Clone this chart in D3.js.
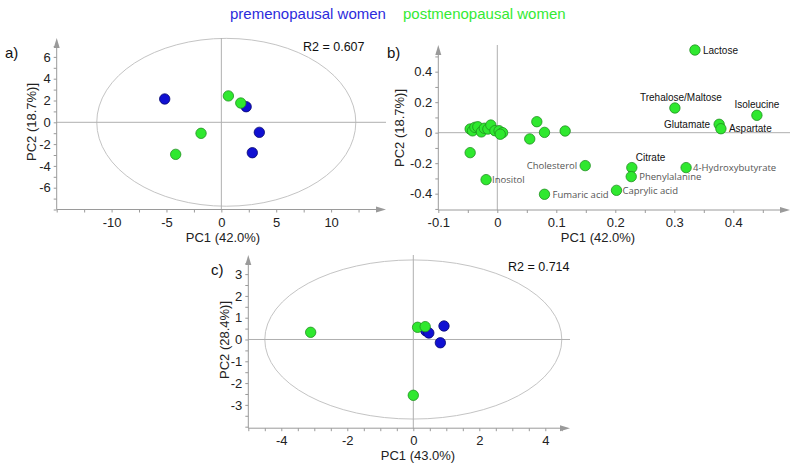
<!DOCTYPE html>
<html><head><meta charset="utf-8">
<script src="https://cdn.jsdelivr.net/npm/d3@7"></script>
<style>
html,body{margin:0;padding:0;background:#fff;}
svg{display:block;font-family:"Liberation Sans",Arial,sans-serif;}
</style></head>
<body>
<svg id="chart" width="800" height="469"></svg>
<script>
// ---------- DATA ----------
const groups = ["premenopausal women", "postmenopausal women"];

// panel a) scores
const aPreX  = [-5.16, 2.26, 3.46, 2.82];
const aPreY  = [ 2.14, 1.43, -0.92, -2.79];
const aPostX = [0.64, 1.77, -1.85, -4.16];
const aPostY = [2.42, 1.77, -1.01, -2.94];
const aR2 = "R2 = 0.607";

// panel b) loadings
const bNames = ["Lactose","Trehalose/Maltose","Isoleucine","Glutamate","Aspartate","Cholesterol","Citrate",
  "4-Hydroxybutyrate","Phenylalanine","Inositol","Fumaric acid","Caprylic acid",
  "","","","","", "","","","","","","","","","","",""];
const bX = [0.335,0.301,0.440,0.376,0.379,0.149,0.228,0.320,0.227,-0.019,0.080,0.202,
  0.067,0.080,0.115,0.055,-0.046, -0.046,-0.042,-0.038,-0.033,-0.027,-0.022,-0.016,-0.011,-0.004,0.003,0.009,0.005];
const bY = [0.542,0.162,0.114,0.055,0.026,-0.216,-0.229,-0.229,-0.288,-0.308,-0.404,-0.378,
  0.072,0.002,0.011,-0.041,-0.131, 0.024,0.012,0.035,0.039,0.005,0.029,0.024,0.050,0.013,0.013,0.000,-0.010];

// panel c) scores
const cPreX  = [0.38, 0.47, 0.93, 0.82];
const cPreY  = [0.40, 0.30, 0.62, -0.15];
const cPostX = [-3.11, 0.13, 0.36, 0.00];
const cPostY = [0.33, 0.56, 0.59, -2.56];
const cR2 = "R2 = 0.714";

const axisTitles = {a:["PC1 (42.0%)","PC2 (18.7%)]"], b:["PC1 (42.0%)","PC2 (18.7%)]"], c:["PC1 (43.0%)","PC2 (28.4%)]"]};

// ---------- STYLE / LAYOUT ----------
const BLUE = "#1010d2", BLUE_S = "#06066e";
const GREEN = "#2fe82f", GREEN_S = "#1f8f1f";
const AXC = "#9a9a9a";
const R = 5.2;

// label placement for panel b (style only)
const bPlace = {
  "Lactose":["r",8], "Trehalose/Maltose":["a",6], "Isoleucine":["a",0], "Glutamate":["l",9],
  "Aspartate":["r",8], "Cholesterol":["l",8], "Citrate":["ar",4], "4-Hydroxybutyrate":["r",7],
  "Phenylalanine":["r",8], "Inositol":["r",6], "Fumaric acid":["r",8], "Caprylic acid":["r",6]
};
const greyLabels = new Set(["Cholesterol","4-Hydroxybutyrate","Phenylalanine","Inositol","Fumaric acid","Caprylic acid"]);

const svg = d3.select("#chart");
const fmt = d => String(+(+d).toFixed(2));

function panel(cfg) {
  const g = svg.append("g");
  const x = d3.scaleLinear().domain(cfg.xd).range(cfg.xr);
  const y = d3.scaleLinear().domain(cfg.yd).range(cfg.yr);
  const x0 = cfg.xr[0], yb = cfg.yr[0];

  if (cfg.ell) {
    const [cx, cy, rx, ry] = cfg.ell;
    g.append("ellipse").attr("cx", x(cx)).attr("cy", y(cy))
      .attr("rx", Math.abs(x(rx) - x(0))).attr("ry", Math.abs(y(ry) - y(0)))
      .attr("fill", "none").attr("stroke", "#c4c4c4").attr("stroke-width", 1);
  }
  g.append("line").attr("x1", x(0)).attr("x2", x(0)).attr("y1", cfg.yTop).attr("y2", yb)
    .attr("stroke", "#b0b0b0").attr("stroke-width", 1);
  g.append("line").attr("x1", x0).attr("x2", cfg.xEnd).attr("y1", y(0)).attr("y2", y(0))
    .attr("stroke", "#b0b0b0").attr("stroke-width", 1);

  const xa = g.append("g").attr("transform", `translate(0,${yb})`)
    .call(d3.axisBottom(x).tickValues(cfg.xt).tickSize(3).tickSizeOuter(0)
      .tickFormat(d => cfg.xl.some(v => Math.abs(v - d) < 1e-9) ? fmt(d) : ""));
  const ya = g.append("g").attr("transform", `translate(${x0},0)`)
    .call(d3.axisLeft(y).tickValues(cfg.yt).tickSize(3).tickSizeOuter(0)
      .tickFormat(d => cfg.yl.some(v => Math.abs(v - d) < 1e-9) ? fmt(d) : ""));
  [xa, ya].forEach(a => {
    a.select(".domain").remove();
    a.selectAll(".tick line").attr("stroke", AXC);
    a.selectAll(".tick text").attr("fill", "#222").style("font-size", "13px")
      .style("font-family", '"Liberation Sans",Arial,sans-serif');
  });
  xa.selectAll(".tick text").attr("dy", "0").attr("y", 17);
  ya.selectAll(".tick text").attr("x", -6);
  g.append("line").attr("x1", x0).attr("x2", cfg.xEnd - 8).attr("y1", yb).attr("y2", yb).attr("stroke", AXC);
  g.append("path").attr("d", `M${cfg.xEnd},${yb} L${cfg.xEnd - 10},${yb - 3} L${cfg.xEnd - 10},${yb + 3} Z`).attr("fill", AXC);
  g.append("line").attr("x1", x0).attr("x2", x0).attr("y1", cfg.yTop + 8).attr("y2", yb).attr("stroke", AXC);
  g.append("path").attr("d", `M${x0},${cfg.yTop} L${x0 - 3},${cfg.yTop + 10} L${x0 + 3},${cfg.yTop + 10} Z`).attr("fill", AXC);

  g.append("text").attr("x", cfg.xtPos[0]).attr("y", cfg.xtPos[1]).attr("text-anchor", "middle")
    .style("font-size", "13px").attr("fill", "#222").text(cfg.titles[0]);
  g.append("text").attr("transform", `translate(${cfg.ytPos[0]},${cfg.ytPos[1]}) rotate(-90)`)
    .attr("text-anchor", "middle").style("font-size", "13px").attr("fill", "#222").text(cfg.titles[1]);
  g.append("text").attr("x", cfg.letterPos[0]).attr("y", cfg.letterPos[1]).style("font-size", "15px")
    .attr("fill", "#111").text(cfg.letter);
  if (cfg.r2) g.append("text").attr("x", cfg.r2Pos[0]).attr("y", cfg.r2Pos[1]).style("font-size", "12.5px")
    .attr("fill", "#111").text(cfg.r2);
  return {g, x, y};
}

function dots(p, xs, ys, fill, stroke) {
  p.g.append("g").selectAll("circle").data(xs.map((d, i) => [d, ys[i]])).join("circle")
    .attr("cx", d => p.x(d[0])).attr("cy", d => p.y(d[1])).attr("r", R)
    .attr("fill", fill).attr("stroke", stroke).attr("stroke-width", 0.8);
}

// legend
svg.append("text").attr("x", 230).attr("y", 19).style("font-size", "15px").attr("fill", "#2b2bdc").text(groups[0]);
svg.append("text").attr("x", 403).attr("y", 19).style("font-size", "15px").attr("fill", "#34ea34").text(groups[1]);

// ---- panel a
const pa = panel({
  xd: [-15, 15], xr: [56.7, 386], yd: [-8, 8], yr: [209.5, 35.1],
  xEnd: 386, yTop: 38,
  xt: d3.range(-15, 12.6, 2.5), xl: [-10, -5, 0, 5, 10],
  yt: d3.range(-8, 7.1, 1), yl: [-6, -4, -2, 0, 2, 4, 6],
  ell: [0.45, 0, 11.8, 7.7],
  titles: axisTitles.a, xtPos: [223, 242], ytPos: [36, 122],
  letter: "a)", letterPos: [5, 58], r2: aR2, r2Pos: [303, 51]
});
dots(pa, aPreX, aPreY, BLUE, BLUE_S);
dots(pa, aPostX, aPostY, GREEN, GREEN_S);

// ---- panel b
const pb = panel({
  xd: [-0.1, 0.5], xr: [438.3, 792.3], yd: [-0.507, 0.575], yr: [210, 45],
  xEnd: 790, yTop: 45,
  xt: d3.range(-0.1, 0.451, 0.05), xl: [-0.1, 0, 0.1, 0.2, 0.3, 0.4],
  yt: d3.range(-0.5, 0.51, 0.1), yl: [-0.4, -0.2, 0, 0.2, 0.4],
  ell: null,
  titles: axisTitles.b, xtPos: [598, 242], ytPos: [404, 128],
  letter: "b)", letterPos: [387, 58], r2: null
});
dots(pb, bX, bY, GREEN, GREEN_S);
const lab = pb.g.append("g");
bNames.forEach((n, i) => {
  if (!n) return;
  const px = pb.x(bX[i]), py = pb.y(bY[i]);
  const [mode, off] = bPlace[n];
  const t = lab.append("text").text(n)
    .attr("fill", greyLabels.has(n) ? "#555" : "#111")
    .style("font-size", greyLabels.has(n) ? "9.5px" : "10px")
    .style("font-family", greyLabels.has(n) ? '"Open Sans",sans-serif' : '"Liberation Sans",Arial,sans-serif');
  if (mode === "r") t.attr("x", px + off).attr("y", py + 3.5);
  else if (mode === "l") t.attr("x", px - off).attr("y", py + 3.5).attr("text-anchor", "end");
  else if (mode === "a") t.attr("x", px + off).attr("y", py - 7).attr("text-anchor", "middle");
  else if (mode === "ar") t.attr("x", px + off).attr("y", py - 7);
});

// ---- panel c
const pc = panel({
  xd: [-5, 4.7], xr: [248.3, 568.4], yd: [-4.07, 3.9], yr: [428.2, 254.5],
  xEnd: 570, yTop: 255,
  xt: d3.range(-5, 4.51, 0.5), xl: [-4, -2, 0, 2, 4],
  yt: d3.range(-4, 3.51, 0.5), yl: [-3, -2, -1, 0, 1, 2, 3],
  ell: [0, 0, 4.5, 3.65],
  titles: axisTitles.c, xtPos: [418, 460], ytPos: [229, 340],
  letter: "c)", letterPos: [211, 275], r2: cR2, r2Pos: [508, 271]
});
dots(pc, cPreX, cPreY, BLUE, BLUE_S);
dots(pc, cPostX, cPostY, GREEN, GREEN_S);
</script>
</body></html>
